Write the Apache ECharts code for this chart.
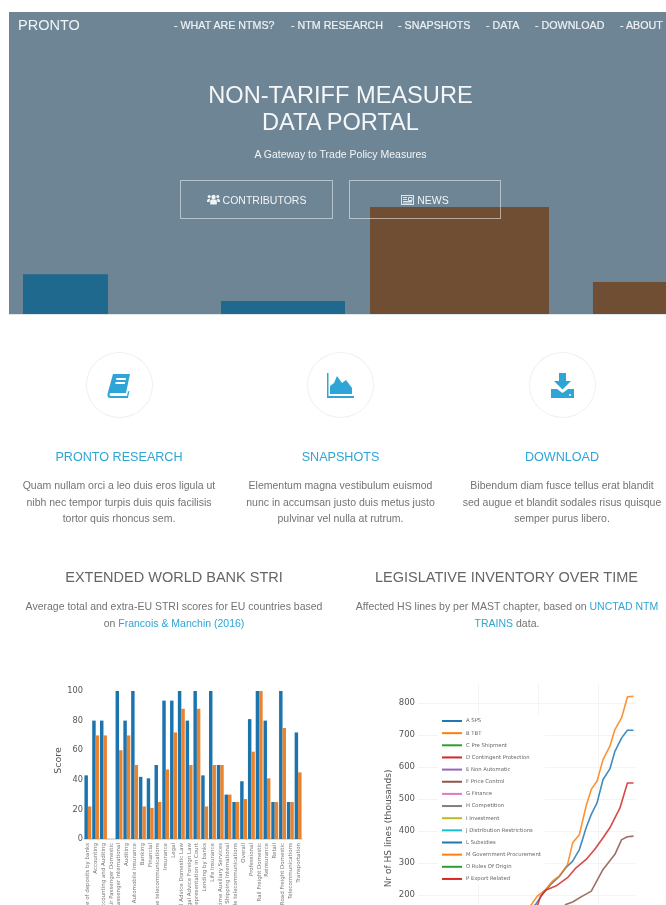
<!DOCTYPE html>
<html>
<head>
<meta charset="utf-8">
<title>PRONTO</title>
<script src="https://cdn.jsdelivr.net/npm/echarts@6/dist/echarts.min.js"></script>
<style>
html,body{margin:0;padding:0;width:666px;height:905px;overflow:hidden;background:#fff;font-family:"Liberation Sans",Arial,sans-serif;}
#page{position:absolute;left:0;top:0;width:666px;height:905px;overflow:hidden;filter:blur(.4px);}
#hero{position:absolute;left:9px;top:12px;width:657px;height:302px;background:#6e8595;z-index:0;border-bottom:1px solid #dfe6ea;}
#chart{position:absolute;left:0;top:0;width:666px;height:1100px;z-index:1;}
.t{position:absolute;white-space:nowrap;z-index:2;line-height:1;}
.c{transform:translate(-50%,-50%);text-align:center;}
.l{transform:translateY(-50%);}
.nav{color:#eef2f4;font-size:10.7px;-webkit-text-stroke:.2px #eef2f4;}
.head{color:#2ea5d6;font-size:12.6px;}
.p{color:#737373;font-size:10.5px;}
.sec{color:#666;font-size:14.5px;}
a{color:#2ea5d6;text-decoration:none;}
.btn{position:absolute;z-index:2;box-sizing:border-box;height:39px;top:180px;border:1px solid rgba(255,255,255,.5);color:#f2f5f6;font-size:10.5px;display:flex;align-items:center;justify-content:center;gap:3px;}
.circ{position:absolute;z-index:2;box-sizing:border-box;width:67px;height:66px;border:1px solid #f0f0f0;border-radius:50%;top:352px;display:flex;align-items:center;justify-content:center;}
</style>
</head>
<body>
<div id="page">
<div id="hero"></div>
<div id="chart"></div>

<div class="t l" style="left:18px;top:25px;color:#f2f5f6;font-size:14.5px;">PRONTO</div>
<div class="t l nav" style="left:174px;top:25px;">- WHAT ARE NTMS?</div>
<div class="t l nav" style="left:291px;top:25px;">- NTM RESEARCH</div>
<div class="t l nav" style="left:398px;top:25px;">- SNAPSHOTS</div>
<div class="t l nav" style="left:486px;top:25px;">- DATA</div>
<div class="t l nav" style="left:535px;top:25px;">- DOWNLOAD</div>
<div class="t l nav" style="left:620px;top:25px;">- ABOUT</div>
<div class="t c" style="left:340.5px;top:96px;color:#f5f7f8;font-size:23.6px;">NON-TARIFF MEASURE</div>
<div class="t c" style="left:340.5px;top:123px;color:#f5f7f8;font-size:23.6px;">DATA PORTAL</div>
<div class="t c" style="left:340.5px;top:154px;color:#f2f5f6;font-size:10.5px;">A Gateway to Trade Policy Measures</div>

<div class="btn" style="left:180px;width:153px;">
<svg width="13" height="11" viewBox="0 0 13 11"><g fill="#f2f5f6"><circle cx="6.5" cy="3" r="2.2"/><circle cx="2.2" cy="2.6" r="1.5"/><circle cx="10.8" cy="2.6" r="1.5"/><path d="M3.2 10.5V7c0-1 1-1.8 3.3-1.8S9.8 6 9.8 7v3.5z"/><path d="M0 7.5C0 5.5 1 4.8 2.4 4.8l.6.3L2.4 8H0zM13 7.5c0-2-1-2.7-2.4-2.7l-.6.3.6 2.9H13z"/></g></svg>
<span>CONTRIBUTORS</span></div>
<div class="btn" style="left:349px;width:152px;">
<svg width="13" height="10" viewBox="0 0 13 10"><rect x="0.5" y="0.5" width="12" height="9" fill="none" stroke="#dfe5e8"/><path d="M2 2.5h4M2 4.5h4M2 6.5h9M2 8h9M7.5 2.5h3.5v3H7.5z" stroke="#dfe5e8" fill="none"/></svg>
<span>NEWS</span></div>

<div class="circ" style="left:85.5px;">
<svg width="24" height="25" viewBox="0 0 24 25"><path fill="#2ea5d6" d="M6 1h17l-4 19H4c-1 0-1.5 1-1.5 1.5S3 23 4 23h16l1-4.5 1.5-.5-1.6 7H3.5C1.5 25 0 23.5.5 21z"/><path fill="#fff" d="M9.5 5h9.5l-.4 2H9zM8.7 9h9.5l-.4 2H8.3z"/></svg></div>
<div class="circ" style="left:307px;">
<svg width="27" height="25" viewBox="0 0 27 25"><path fill="#2ea5d6" d="M0 0h1.5v23H27v2H0z"/><path fill="#2ea5d6" d="M3 21V13l4-3 3-7 5 7 4-3 6 8v6z"/></svg></div>
<div class="circ" style="left:528.5px;">
<svg width="23" height="25" viewBox="0 0 23 25"><path fill="#2ea5d6" d="M8 0h7v8h5l-8.500 8.500L3 8h5z"/><path fill="#2ea5d6" d="M0 16h6l5.500 4 5.500-4h6v9H0z"/><circle cx="19" cy="22" r="1" fill="#fff"/></svg></div>

<div class="t c head" style="left:119px;top:456.500px;">PRONTO RESEARCH</div>
<div class="t c head" style="left:340.500px;top:456.500px;">SNAPSHOTS</div>
<div class="t c head" style="left:562px;top:456.500px;">DOWNLOAD</div>

<div class="t c p" style="left:119px;top:485px;">Quam nullam orci a leo duis eros ligula ut</div>
<div class="t c p" style="left:119px;top:501.500px;">nibh nec tempor turpis duis quis facilisis</div>
<div class="t c p" style="left:119px;top:518px;">tortor quis rhoncus sem.</div>
<div class="t c p" style="left:340.500px;top:485px;">Elementum magna vestibulum euismod</div>
<div class="t c p" style="left:340.500px;top:501.500px;">nunc in accumsan justo duis metus justo</div>
<div class="t c p" style="left:340.500px;top:518px;">pulvinar vel nulla at rutrum.</div>
<div class="t c p" style="left:562px;top:485px;">Bibendum diam fusce tellus erat blandit</div>
<div class="t c p" style="left:562px;top:501.500px;">sed augue et blandit sodales risus quisque</div>
<div class="t c p" style="left:562px;top:518px;">semper purus libero.</div>

<div class="t c sec" style="left:174px;top:577px;">EXTENDED WORLD BANK STRI</div>
<div class="t c sec" style="left:506.500px;top:577px;">LEGISLATIVE INVENTORY OVER TIME</div>
<div class="t c p" style="left:174px;top:606px;">Average total and extra-EU STRI scores for EU countries based</div>
<div class="t c p" style="left:174px;top:622.500px;">on <a>Francois &amp; Manchin (2016)</a></div>
<div class="t c p" style="left:507px;top:606px;">Affected HS lines by per MAST chapter, based on <a>UNCTAD NTM</a></div>
<div class="t c p" style="left:507px;top:622.500px;"><a>TRAINS</a> data.</div>
</div>

<script>
// Hero backdrop bars: [start, end, height] on a 0-100 scale
var heroBlue = [[2.13, 15.07, 13.2], [32.27, 51.14, 4.3]];
var heroBrown = [[54.95, 82.19, 35.4], [88.88, 100, 10.6]];

// STRI bar chart
var sectors = ["Acceptance of deposits by banks","Accounting","Accounting and Auditing","Air Passenger Domestic","Air Passenger International","Auditing","Automobile Insurance","Banking","Financial","Fixed line telecommunications","Insurance","Legal","Legal Advice Domestic Law","Legal Advice Foreign Law","Legal Representation in Court","Lending by banks","Life Insurance","Maritime Auxiliary Services","Maritime Shipping International","Mobile telecommunications","Overall","Professional","Rail Freight Domestic","Reinsurance","Retail","Road Freight Domestic","Telecommunications","Transportation"];
var totalScore = [43,80,80,0,100,80,100,42,41,50,93.5,93.5,100,80,100,43,100,50,30,25,39,81,100,80,25,100,25,72];
var extraEuScore = [22,70,70,0,60,70,50,22,21,25,47,72,88,50,88,22,50,50,30,25,27,59,100,41,25,75,25,45];

// Legislative inventory: [year, thousands of HS lines]
var lineSPS = [[2000,40],[2002,85],[2003.5,130],[2004.79,170],[2005.35,201],[2006.06,233],[2006.76,257],[2007.32,285],[2007.89,306],[2008.45,342],[2009.01,410],[2009.44,452],[2009.92,488],[2010.42,561],[2010.99,594],[2011.41,649],[2011.97,691],[2012.45,715],[2012.96,715]];
var lineTBT = [[2000,50],[2002,95],[2003.5,135],[2004.45,170],[2004.93,196],[2005.63,217],[2006.2,243],[2006.76,259],[2007.46,295],[2007.89,363],[2008.45,389],[2009.01,478],[2009.44,530],[2009.92,556],[2010.42,623],[2010.99,665],[2011.41,717],[2011.97,754],[2012.45,819],[2012.96,821]];
var linePreShipment = [[2000,2],[2005,8],[2010,20],[2012.96,30]];
var lineContingent = [[2000,30],[2002,75],[2003.5,125],[2004.99,170],[2005.21,196],[2005.63,215],[2006.48,228],[2007.46,254],[2008.17,285],[2009.01,311],[2009.72,342],[2010.42,379],[2010.99,410],[2011.83,472],[2012.45,550],[2012.96,550]];
var lineNonAutomatic = [[2000,5],[2005,15],[2010,40],[2012.96,60]];
var linePriceControl = [[2000,20],[2003,60],[2005,100],[2007.32,170],[2007.89,178],[2008.59,194],[2009.44,212],[2010.42,280],[2011.41,327],[2011.97,373],[2012.45,382],[2012.96,384]];
var lineFinance = [[2000,3],[2005,10],[2010,25],[2012.96,35]];
var lineCompetition = [[2000,1],[2005,5],[2010,12],[2012.96,18]];
var lineInvestment = [[2000,1],[2005,4],[2010,10],[2012.96,15]];
var lineDistribution = [[2000,4],[2005,12],[2010,30],[2012.96,45]];
var lineSubsidies = [[2000,6],[2005,20],[2010,55],[2012.96,80]];
var lineProcurement = [[2000,2],[2005,9],[2010,22],[2012.96,33]];
var lineOrigin = [[2000,8],[2005,25],[2010,65],[2012.96,95]];
var lineExport = [[2000,10],[2005,35],[2010,85],[2012.96,120]];
var yTicks = 100;

var chart = echarts.init(document.getElementById('chart'), null, {renderer:'canvas'});
var gridTxt = '#555';
var font = '"DejaVu Sans",sans-serif';

function heroBars(data, color){
  return {
    type:'custom', xAxisIndex:0, yAxisIndex:0, data:data, silent:true,
    encode:{x:[0,1], y:2},
    renderItem:function(p, api){
      var a = api.coord([api.value(0), api.value(2)]);
      var b = api.coord([api.value(1), 0]);
      return {type:'rect', shape:{x:a[0], y:a[1], width:b[0]-a[0], height:b[1]-a[1]}, style:{fill:color}};
    }
  };
}
function trend(name, data, color){
  return {name:name, type:'line', xAxisIndex:2, yAxisIndex:2, data:data, symbol:'none',
    lineStyle:{color:color, width:1.6, opacity:.85}, itemStyle:{color:color}, silent:true};
}

chart.setOption({
  animation:false,
  backgroundColor:'transparent',
  grid:[
    {left:9, top:12, width:657, height:302},
    {left:84, top:691, width:218, height:148},
    {left:418, top:683.8, width:218.4, height:275.2}
  ],
  xAxis:[
    {gridIndex:0, type:'value', min:0, max:100, show:false},
    {gridIndex:1, type:'category', data:sectors,
      axisLine:{lineStyle:{color:'#cfcfcf', width:1.5}}, axisTick:{show:false},
      axisLabel:{interval:0, rotate:90, fontSize:5.5, color:'#777', fontFamily:font, margin:4}},
    {gridIndex:2, type:'value', min:1995, max:2013.2, interval:5,
      axisLine:{show:false}, axisTick:{show:false},
      axisLabel:{color:gridTxt, fontSize:8.5, fontFamily:font, showMaxLabel:false, formatter:function(v){return String(v);}},
      splitLine:{show:true, showMinLine:false, showMaxLine:false, lineStyle:{color:'#f4f4f4', width:1}}}
  ],
  yAxis:[
    {gridIndex:0, type:'value', min:0, max:100, show:false},
    {gridIndex:1, type:'value', min:0, max:100, interval:20, name:'Score', nameLocation:'middle', nameGap:18,
      nameTextStyle:{color:gridTxt, fontSize:9.500, fontFamily:font, padding:[0,0,0,9]},
      axisLine:{show:false}, axisTick:{show:false}, splitLine:{show:false},
      axisLabel:{color:gridTxt, fontSize:8.200, fontFamily:font, margin:1}},
    {gridIndex:2, type:'value', min:0, max:860, interval:yTicks, name:'Nr of HS lines (thousands)', nameLocation:'middle', nameGap:25,
      nameTextStyle:{color:gridTxt, fontSize:9, fontFamily:font, padding:[0,14,0,0]},
      axisLine:{show:false}, axisTick:{show:false},
      axisLabel:{color:gridTxt, fontSize:8.500, fontFamily:font, margin:3, showMaxLabel:false},
      splitLine:{show:true, showMinLine:false, showMaxLine:false, lineStyle:{color:'#f4f4f4', width:1}}}
  ],
  legend:{
    show:true, orient:'vertical', left:438, top:715, padding:[3,4,3,4],
    backgroundColor:'#fff', icon:'rect', itemWidth:20, itemHeight:2, itemGap:6.15,
    textStyle:{fontSize:5.300, lineHeight:6, color:'#666', fontFamily:font, padding:[0,0,0,-1]},
    selectedMode:false,
    data:["A SPS","B TBT","C Pre Shipment","D Contingent Protection","E Non Automatic","F Price Control","G Finance","H Competition","I Investment","J Distribution Restrictions","L Subsidies","M Government Procurement","O Rules Of Origin","P Export Related"]
  },
  series:[
    heroBars(heroBlue,'#1f688e'),
    heroBars(heroBrown,'#704e34'),
    {name:'Total', type:'bar', xAxisIndex:1, yAxisIndex:1, data:totalScore, barGap:0, barCategoryGap:'11%', itemStyle:{color:'#1b74ae'}, silent:true},
    {name:'Extra-EU', type:'bar', xAxisIndex:1, yAxisIndex:1, data:extraEuScore, itemStyle:{color:'#e9832e'}, silent:true},
    trend('A SPS', lineSPS, '#1f77b4'),
    trend('B TBT', lineTBT, '#ff7f0e'),
    trend('C Pre Shipment', linePreShipment, '#2ca02c'),
    trend('D Contingent Protection', lineContingent, '#d62728'),
    trend('E Non Automatic', lineNonAutomatic, '#9467bd'),
    trend('F Price Control', linePriceControl, '#8c564b'),
    trend('G Finance', lineFinance, '#e377c2'),
    trend('H Competition', lineCompetition, '#7f7f7f'),
    trend('I Investment', lineInvestment, '#bcbd22'),
    trend('J Distribution Restrictions', lineDistribution, '#17becf'),
    trend('L Subsidies', lineSubsidies, '#1f77b4'),
    trend('M Government Procurement', lineProcurement, '#ff7f0e'),
    trend('O Rules Of Origin', lineOrigin, '#2ca02c'),
    trend('P Export Related', lineExport, '#d62728')
  ]
});
</script>
</body>
</html>
